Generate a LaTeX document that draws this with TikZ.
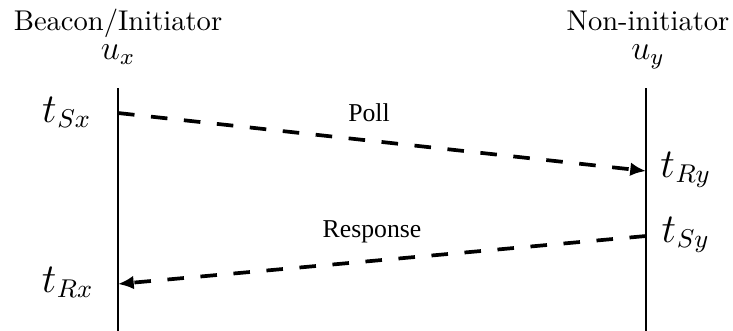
\documentclass[tikz,border=0pt]{standalone}
\usepackage{fontspec}
\newfontfamily\timesf{Liberation Serif}
\usetikzlibrary{arrows.meta}
\newcommand\tlab[1]{$t$\kern0.2pt\raisebox{-1.8pt}{\fontsize{9}{10}\selectfont$#1$}}
\begin{document}
\begin{tikzpicture}[x=0.35pt,y=-0.35pt,
  lifeline/.style={line width=0.7pt},
  msg/.style={line width=1.3pt,dash pattern=on 5.8pt off 5.8pt,-{Latex[length=5.5pt,width=4.8pt]}},
  msglabel/.style={font=\timesf\small,anchor=base},
  title/.style={anchor=base,inner sep=0pt},
  ulabel/.style={font=\large,anchor=base,inner sep=0pt},
  tlabel/.style={font=\Large,anchor=base,inner sep=0pt}]
\useasboundingbox (0,0) rectangle (733,331);
% lifelines
\coordinate (xtop) at (118,88);
\coordinate (xbot) at (118,331);
\coordinate (ytop) at (646,88);
\coordinate (ybot) at (646,331);
\draw[lifeline] (xtop) -- (xbot);
\draw[lifeline] (ytop) -- (ybot);
% titles
\node[title] (bi) at (118,30) {Beacon/Initiator};
\node[ulabel] (ux) at (118,59) {$u_x$};
\node[title] (ni) at (648,30) {Non-initiator};
\node[ulabel] (uy) at (648,59) {$u_y$};
% message endpoints
\coordinate (sx) at (118,113);
\coordinate (ry) at (646,171);
\coordinate (sy) at (646,236);
\coordinate (rx) at (118,284);
\draw[msg] (sx) -- (ry);
\draw[msg] (sy) -- (rx);
\node[msglabel] (poll) at (369,121) {Poll};
\node[msglabel] (resp) at (372,237) {Response};
% time labels
\node[tlabel] (tsx) at (66,122) {\tlab{Sx}};
\node[tlabel] (try) at (685,177) {\tlab{Ry}};
\node[tlabel] (tsy) at (685,242) {\tlab{Sy}};
\node[tlabel] (trx) at (67,292) {\tlab{Rx}};
\end{tikzpicture}
\end{document}
